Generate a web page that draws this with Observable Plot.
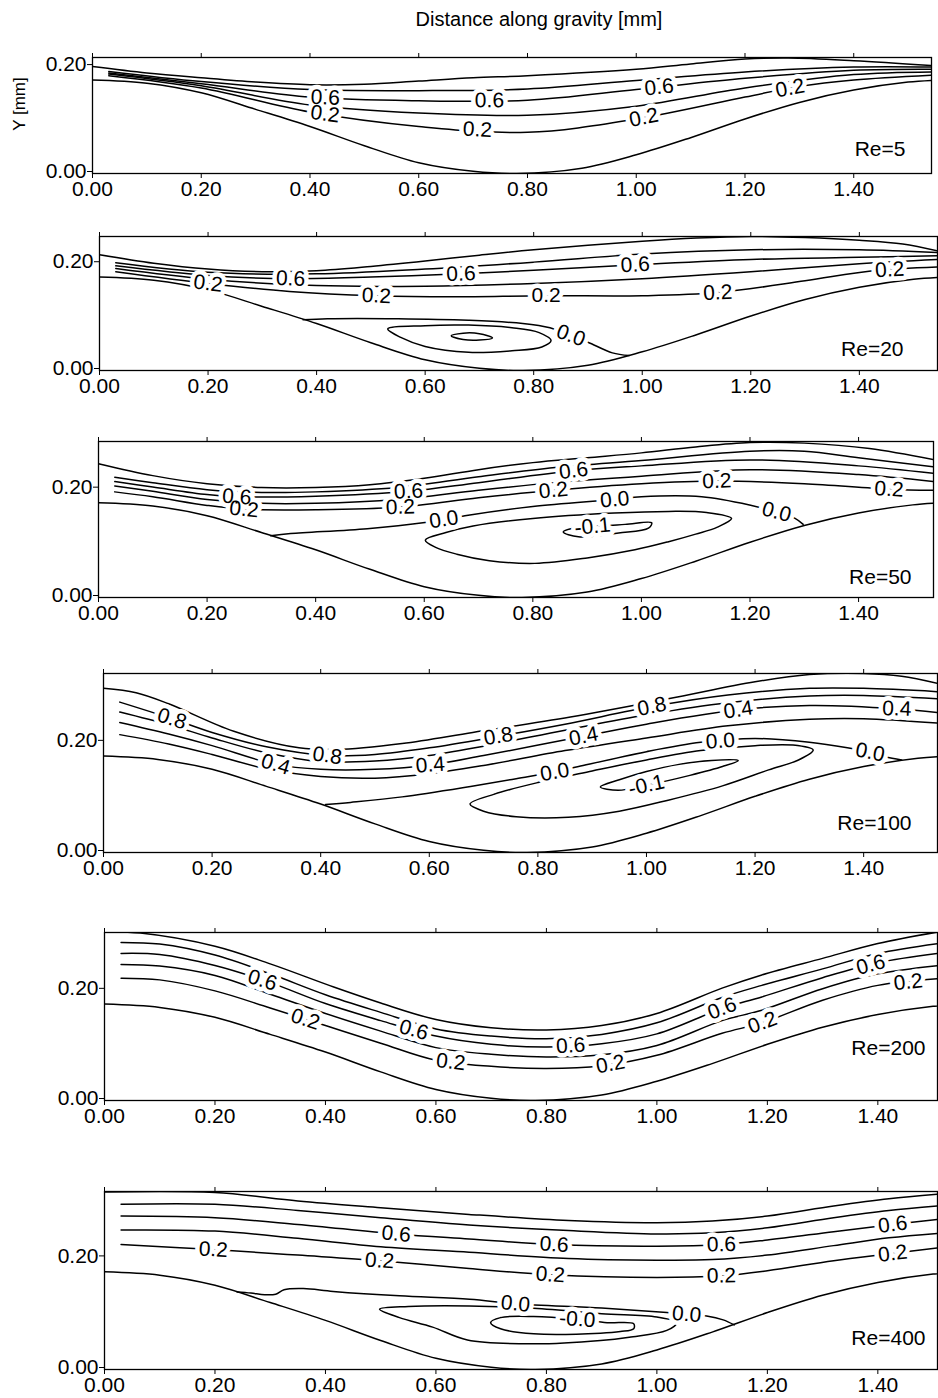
<!DOCTYPE html>
<html>
<head>
<meta charset="utf-8">
<script src="https://cdn.jsdelivr.net/npm/d3@7"></script>
<script src="https://cdn.jsdelivr.net/npm/@observablehq/plot@0.6"></script>
<style>
  body { margin: 0; background: #fff; }
  #fig { position: relative; width: 938px; height: 1398px; font-family: "Liberation Sans", Arial, Helvetica, sans-serif; color: #000; overflow: hidden; }
  .title { position: absolute; top: 7px; left: 539px; transform: translateX(-50%); font-size: 20px; line-height: 24px; white-space: nowrap; }
  .ylab { position: absolute; left: 20px; top: 104px; transform: translate(-50%, -50%) rotate(-90deg); font-size: 17px; white-space: nowrap; }
</style>
</head>
<body>
<div id="fig">
  <div class="title">Distance along gravity [mm]</div>
  <div class="ylab">Y [mm]</div>
</div>
<script>
// ---- axis ticks -------------------------------------------------------------
const xTicks = [0, 0.2, 0.4, 0.6, 0.8, 1.0, 1.2, 1.4];
const yTicks = [0, 0.2];

// ---- corrugated wall (same in every panel) ------------------------------------
const wallX = [0, 0.1, 0.2, 0.3, 0.4, 0.5, 0.6, 0.7, 0.78, 0.9, 1.0, 1.1, 1.2, 1.3, 1.4, 1.5, 1.56];
const wallY = [0.175, 0.169, 0.151, 0.12, 0.088, 0.052, 0.02, 0.004, 0, 0.01, 0.035, 0.067, 0.102, 0.133, 0.156, 0.171, 0.175];

// ---- Re = 5 ---------------------------------------------------------------
const re5Surface = [[0,0.200],[0.1,0.188],[0.2,0.179],[0.3,0.171],[0.4,0.166],[0.5,0.167],[0.6,0.173],[0.7,0.179],[0.8,0.183],[1.0,0.195],[1.1,0.205],[1.2,0.214],[1.28,0.216],[1.4,0.211],[1.543,0.202]];
const re5Streamlines = [
  [[0.03,0.183],[0.2,0.160],[0.4,0.115],[0.6,0.088],[0.8,0.077],[1.0,0.102],[1.2,0.143],[1.3,0.163],[1.4,0.175],[1.543,0.184]],
  [[0.03,0.186],[0.2,0.164],[0.4,0.128],[0.6,0.113],[0.8,0.109],[1.0,0.126],[1.2,0.160],[1.4,0.185],[1.543,0.190]],
  [[0.03,0.188],[0.2,0.168],[0.4,0.143],[0.6,0.136],[0.8,0.137],[1.0,0.157],[1.2,0.178],[1.4,0.193],[1.543,0.195]],
  [[0.03,0.191],[0.2,0.172],[0.4,0.157],[0.6,0.155],[0.8,0.158],[1.0,0.174],[1.2,0.190],[1.4,0.199],[1.543,0.199]]
];
const re5Labels = [["0.6",0.428,0.142],["0.2",0.428,0.114],["0.6",0.73,0.136],["0.2",0.708,0.079],["0.6",1.042,0.161],["0.2",1.014,0.104],["0.2",1.283,0.159]];

// ---- Re = 20 --------------------------------------------------------------
const re20Surface = [[0,0.217],[0.1,0.201],[0.2,0.190],[0.3,0.185],[0.4,0.187],[0.5,0.195],[0.6,0.205],[0.7,0.216],[0.8,0.226],[1.0,0.242],[1.1,0.248],[1.2,0.251],[1.3,0.249],[1.4,0.244],[1.48,0.237],[1.544,0.224]];
const re20Streamlines = [
  [[0.03,0.185],[0.2,0.163],[0.35,0.148],[0.51,0.140],[0.65,0.138],[0.82,0.140],[1.0,0.140],[1.139,0.146],[1.3,0.168],[1.425,0.187],[1.544,0.194]],
  [[0.03,0.191],[0.2,0.171],[0.4,0.159],[0.6,0.158],[0.8,0.163],[1.0,0.172],[1.2,0.185],[1.4,0.200],[1.544,0.208]],
  [[0.03,0.196],[0.2,0.178],[0.352,0.172],[0.5,0.175],[0.666,0.181],[0.8,0.188],[0.987,0.198],[1.2,0.208],[1.4,0.212],[1.544,0.215]],
  [[0.03,0.202],[0.2,0.184],[0.4,0.181],[0.6,0.190],[0.8,0.203],[1.0,0.218],[1.2,0.226],[1.4,0.226],[1.544,0.221]]
];
const re20Separatrix = [[0.375,0.095],[0.42,0.097],[0.55,0.097],[0.68,0.094],[0.78,0.088],[0.83,0.080],[0.87,0.065],[0.9,0.053],[0.945,0.033],[0.976,0.028]];
const re20Eddies = [
  [[0.531,0.078],[0.6,0.084],[0.68,0.085],[0.76,0.080],[0.81,0.071],[0.832,0.056],[0.815,0.044],[0.76,0.037],[0.68,0.034],[0.6,0.045],[0.555,0.062]],
  [[0.648,0.065],[0.67,0.070],[0.7,0.069],[0.724,0.061],[0.7,0.057],[0.67,0.058]]
];
const re20Labels = [["0.2",0.2,0.163],["0.6",0.352,0.172],["0.2",0.51,0.140],["0.6",0.666,0.181],["0.2",0.823,0.140],["0.6",0.987,0.198],["0.2",1.139,0.146],["0.2",1.456,0.188],["0.0",0.868,0.064]];

// ---- Re = 50 --------------------------------------------------------------
const re50Surface = [[0,0.247],[0.1,0.225],[0.2,0.210],[0.3,0.203],[0.4,0.203],[0.5,0.208],[0.6,0.220],[0.7,0.236],[0.8,0.249],[0.9,0.258],[1.0,0.267],[1.1,0.278],[1.2,0.286],[1.3,0.285],[1.42,0.275],[1.54,0.254]];
const re50Streamlines = [
  [[0.03,0.195],[0.1,0.186],[0.2,0.170],[0.268,0.163],[0.4,0.162],[0.556,0.167],[0.7,0.184],[0.838,0.198],[1.0,0.210],[1.139,0.215],[1.3,0.210],[1.456,0.200],[1.54,0.198]],
  [[0.03,0.206],[0.1,0.196],[0.2,0.181],[0.3,0.174],[0.4,0.174],[0.55,0.181],[0.7,0.198],[0.85,0.213],[1.0,0.224],[1.2,0.236],[1.4,0.227],[1.54,0.214]],
  [[0.03,0.214],[0.1,0.204],[0.2,0.190],[0.255,0.186],[0.4,0.187],[0.571,0.196],[0.7,0.212],[0.875,0.234],[1.0,0.243],[1.2,0.254],[1.4,0.243],[1.54,0.229]],
  [[0.03,0.222],[0.1,0.212],[0.2,0.199],[0.3,0.194],[0.4,0.195],[0.55,0.203],[0.7,0.223],[0.85,0.241],[1.0,0.253],[1.2,0.270],[1.3,0.270],[1.4,0.258],[1.54,0.241]]
];
const re50Separatrix = [[0.317,0.114],[0.354,0.118],[0.495,0.127],[0.605,0.139],[0.636,0.144],[0.681,0.152],[0.8,0.168],[0.951,0.181],[1.0,0.186],[1.111,0.186],[1.203,0.170],[1.249,0.158],[1.283,0.146],[1.298,0.135]];
const re50Eddies = [
  [[0.602,0.106],[0.64,0.120],[0.69,0.132],[0.8,0.146],[0.95,0.156],[1.05,0.159],[1.12,0.157],[1.166,0.146],[1.14,0.130],[1.1,0.117],[1.05,0.103],[0.988,0.088],[0.9,0.073],[0.804,0.063],[0.72,0.068],[0.66,0.080],[0.62,0.093]],
  [[0.856,0.121],[0.87,0.127],[0.91,0.131],[0.97,0.135],[1.019,0.138],[1.013,0.128],[0.958,0.119],[0.884,0.112]]
];
const re50Labels = [["0.6",0.255,0.188],["0.2",0.268,0.163],["0.6",0.571,0.196],["0.2",0.556,0.167],["0.0",0.636,0.144],["0.6",0.875,0.234],["0.2",0.838,0.198],["0.0",0.951,0.181],["-0.1",0.91,0.131],["0.2",1.139,0.215],["0.0",1.249,0.158],["0.2",1.456,0.200]];

// ---- Re = 100 -------------------------------------------------------------
const re100Surface = [[0,0.298],[0.06,0.290],[0.12,0.270],[0.24,0.220],[0.36,0.190],[0.43,0.187],[0.55,0.198],[0.68,0.218],[0.86,0.246],[1.04,0.279],[1.2,0.310],[1.3,0.323],[1.4,0.325],[1.47,0.320],[1.536,0.307]];
const re100Streamlines = [
  [[0.03,0.214],[0.12,0.197],[0.2,0.178],[0.3,0.152],[0.4,0.138],[0.5,0.135],[0.6,0.143],[0.7,0.158],[0.85,0.185],[1.0,0.208],[1.15,0.230],[1.3,0.242],[1.4,0.243],[1.536,0.235]],
  [[0.03,0.236],[0.12,0.215],[0.2,0.194],[0.317,0.160],[0.4,0.151],[0.5,0.151],[0.602,0.159],[0.7,0.176],[0.884,0.211],[1.0,0.233],[1.169,0.259],[1.3,0.267],[1.461,0.261],[1.536,0.254]],
  [[0.03,0.255],[0.12,0.232],[0.2,0.208],[0.3,0.181],[0.4,0.165],[0.5,0.166],[0.6,0.176],[0.7,0.193],[0.85,0.222],[1.0,0.250],[1.15,0.272],[1.3,0.284],[1.4,0.285],[1.536,0.279]],
  [[0.03,0.273],[0.126,0.243],[0.2,0.218],[0.3,0.192],[0.412,0.176],[0.5,0.178],[0.6,0.190],[0.727,0.211],[0.85,0.233],[1.01,0.265],[1.15,0.286],[1.3,0.298],[1.4,0.298],[1.536,0.292]]
];
const re100Separatrix = [[0.409,0.087],[0.455,0.091],[0.55,0.101],[0.676,0.120],[0.76,0.134],[0.831,0.146],[0.875,0.156],[1.0,0.183],[1.1,0.200],[1.2,0.207],[1.3,0.200],[1.37,0.190],[1.412,0.182],[1.44,0.174],[1.47,0.168]];
const re100Eddies = [
  [[0.675,0.088],[0.72,0.106],[0.8,0.127],[0.9,0.148],[1.0,0.168],[1.1,0.185],[1.2,0.194],[1.27,0.195],[1.307,0.186],[1.28,0.168],[1.225,0.150],[1.14,0.121],[1.04,0.095],[0.95,0.075],[0.856,0.064],[0.76,0.065],[0.7,0.075]],
  [[0.915,0.119],[0.95,0.132],[1.0,0.147],[1.06,0.160],[1.12,0.167],[1.169,0.167],[1.14,0.156],[1.08,0.140],[1.0,0.122],[0.948,0.113]]
];
const re100Labels = [["0.8",0.126,0.243],["0.4",0.317,0.160],["0.8",0.412,0.176],["0.4",0.602,0.159],["0.8",0.727,0.211],["0.4",0.884,0.211],["0.8",1.01,0.265],["0.4",1.169,0.259],["0.4",1.461,0.261],["0.0",0.831,0.146],["0.0",1.136,0.203],["0.0",1.412,0.182],["-0.1",1.0,0.122]];

// ---- Re = 200 -------------------------------------------------------------
const re200Surface = [[0,0.306],[0.065,0.304],[0.2,0.280],[0.3,0.248],[0.415,0.206],[0.5,0.177],[0.6,0.147],[0.7,0.132],[0.8,0.128],[0.9,0.136],[1.0,0.158],[1.118,0.204],[1.19,0.228],[1.3,0.258],[1.4,0.285],[1.509,0.306]];
const re200Streamlines = [
  [[0.03,0.222],[0.1,0.219],[0.2,0.199],[0.3,0.168],[0.4,0.136],[0.5,0.104],[0.6,0.073],[0.7,0.062],[0.8,0.058],[0.9,0.063],[1.0,0.082],[1.118,0.122],[1.19,0.141],[1.3,0.182],[1.4,0.209],[1.509,0.221]],
  [[0.03,0.247],[0.1,0.244],[0.2,0.227],[0.3,0.193],[0.4,0.158],[0.5,0.126],[0.6,0.096],[0.7,0.084],[0.8,0.079],[0.9,0.083],[1.0,0.100],[1.118,0.145],[1.19,0.164],[1.3,0.203],[1.4,0.230],[1.509,0.245]],
  [[0.03,0.267],[0.1,0.265],[0.2,0.245],[0.3,0.214],[0.4,0.176],[0.5,0.145],[0.6,0.117],[0.7,0.102],[0.8,0.097],[0.9,0.103],[1.0,0.121],[1.118,0.167],[1.19,0.188],[1.3,0.223],[1.4,0.250],[1.509,0.267]],
  [[0.03,0.287],[0.1,0.284],[0.2,0.264],[0.3,0.230],[0.4,0.192],[0.5,0.160],[0.6,0.130],[0.7,0.117],[0.8,0.112],[0.9,0.120],[1.0,0.141],[1.118,0.187],[1.19,0.209],[1.3,0.239],[1.4,0.267],[1.509,0.285]]
];
const re200Labels = [["0.6",0.286,0.219],["0.2",0.364,0.149],["0.6",0.56,0.128],["0.2",0.627,0.070],["0.6",0.844,0.099],["0.2",0.916,0.066],["0.6",1.118,0.167],["0.2",1.191,0.141],["0.6",1.387,0.247],["0.2",1.455,0.215]];

// ---- Re = 400 -------------------------------------------------------------
const re400Surface = [[0,0.318],[0.2,0.317],[0.35,0.302],[0.5,0.290],[0.66,0.278],[0.84,0.267],[1.0,0.263],[1.1,0.266],[1.2,0.275],[1.32,0.293],[1.42,0.306],[1.508,0.314]];
const re400Streamlines = [
  [[0.03,0.224],[0.197,0.215],[0.35,0.205],[0.498,0.195],[0.66,0.181],[0.807,0.170],[1.0,0.165],[1.117,0.168],[1.2,0.177],[1.32,0.195],[1.427,0.208],[1.508,0.218]],
  [[0.03,0.250],[0.2,0.248],[0.35,0.235],[0.5,0.220],[0.66,0.210],[0.84,0.199],[1.0,0.196],[1.1,0.197],[1.2,0.205],[1.32,0.222],[1.42,0.236],[1.508,0.244]],
  [[0.03,0.275],[0.2,0.272],[0.35,0.260],[0.528,0.243],[0.66,0.234],[0.814,0.224],[1.0,0.221],[1.117,0.224],[1.2,0.232],[1.32,0.247],[1.427,0.260],[1.508,0.269]],
  [[0.03,0.296],[0.2,0.296],[0.35,0.285],[0.5,0.272],[0.66,0.259],[0.84,0.249],[1.0,0.243],[1.1,0.245],[1.2,0.254],[1.32,0.272],[1.42,0.285],[1.508,0.293]]
];
const re400Separatrix = [[0.24,0.139],[0.265,0.137],[0.29,0.134],[0.31,0.135],[0.325,0.143],[0.36,0.145],[0.414,0.140],[0.534,0.132],[0.661,0.126],[0.744,0.118],[0.9,0.110],[1.018,0.102],[1.09,0.096],[1.12,0.089],[1.14,0.080]];
const re400Eddies = [
  [[0.498,0.108],[0.55,0.113],[0.66,0.114],[0.77,0.110],[0.9,0.100],[1.0,0.094],[1.036,0.084],[1.018,0.070],[0.95,0.058],[0.898,0.052],[0.777,0.046],[0.657,0.053],[0.594,0.076],[0.534,0.093]],
  [[0.699,0.084],[0.717,0.093],[0.777,0.095],[0.856,0.090],[0.91,0.084],[0.958,0.082],[0.958,0.073],[0.934,0.068],[0.898,0.065],[0.777,0.064],[0.717,0.073]]
];
const re400Labels = [["0.2",0.197,0.215],["0.6",0.528,0.243],["0.2",0.498,0.195],["0.6",0.814,0.224],["0.2",0.807,0.170],["0.6",1.117,0.224],["0.2",1.117,0.168],["0.6",1.427,0.260],["0.2",1.427,0.208],["0.0",0.744,0.118],["-0.0",0.856,0.090],["0.0",1.054,0.099]];

// ---- panel layout (frame edges in page pixels) -------------------------------
const panels = [
  {re: "Re=5",   frameTop: 57,   frameBottom: 173,  left: 92,  right: 931, xMax: 1.543, yMax: 0.217, pad: 32, reDx: 26, reDy: 24,
   surface: re5Surface, streamlines: re5Streamlines, extra: [], eddies: [], labels: re5Labels},
  {re: "Re=20",  frameTop: 236,  frameBottom: 370,  left: 99,  right: 937, xMax: 1.544, yMax: 0.251, pad: 32, reDx: 34, reDy: 21,
   surface: re20Surface, streamlines: re20Streamlines, extra: [re20Separatrix], eddies: re20Eddies, labels: re20Labels},
  {re: "Re=50",  frameTop: 441,  frameBottom: 597,  left: 98,  right: 933, xMax: 1.538, yMax: 0.288, pad: 32, reDx: 22, reDy: 20,
   surface: re50Surface, streamlines: re50Streamlines, extra: [re50Separatrix], eddies: re50Eddies, labels: re50Labels},
  {re: "Re=100", frameTop: 673,  frameBottom: 852,  left: 103, right: 937, xMax: 1.536, yMax: 0.325, pad: 32, reDx: 26, reDy: 29,
   surface: re100Surface, streamlines: re100Streamlines, extra: [re100Separatrix], eddies: re100Eddies, labels: re100Labels},
  {re: "Re=200", frameTop: 932,  frameBottom: 1100, left: 104, right: 937, xMax: 1.508, yMax: 0.305, pad: 32, reDx: 12, reDy: 52,
   surface: re200Surface, streamlines: re200Streamlines, extra: [], eddies: [], labels: re200Labels},
  {re: "Re=400", frameTop: 1191, frameBottom: 1369, left: 104, right: 937, xMax: 1.508, yMax: 0.319, pad: 29, reDx: 12, reDy: 31,
   surface: re400Surface, streamlines: re400Streamlines, extra: [re400Separatrix], eddies: re400Eddies, labels: re400Labels}
];

const FONT = "'Liberation Sans', Arial, Helvetica, sans-serif";
const fmt = d3.format(".2f");
const xy = {x: d => d[0], y: d => d[1]};
const wall = wallX.map((x, i) => [x, wallY[i]]);

// Put each contour label on the nearest streamline and turn it along the line.
function placeLabels(list, open, closed, kx, ky) {
  const polys = [...open, ...closed.map(l => [...l, l[0]])];
  return list.map(([text, lx, ly]) => {
    const qx = lx * kx, qy = -ly * ky;
    let best = {d: Infinity};
    for (const pts of polys) {
      for (let i = 1; i < pts.length; i++) {
        const ax = pts[i - 1][0] * kx, ay = -pts[i - 1][1] * ky;
        const bx = pts[i][0] * kx, by = -pts[i][1] * ky;
        const vx = bx - ax, vy = by - ay;
        const t = Math.max(0, Math.min(1, ((qx - ax) * vx + (qy - ay) * vy) / (vx * vx + vy * vy)));
        const px = ax + t * vx, py = ay + t * vy;
        const d = Math.hypot(qx - px, qy - py);
        if (d < best.d) best = {d, px, py, ang: Math.atan2(vy, vx) * 180 / Math.PI};
      }
    }
    let a = best.ang;
    if (a > 90) a -= 180;
    if (a < -90) a += 180;
    return {text, x: best.px / kx, y: -best.py / ky, rotate: a};
  });
}

const fig = document.getElementById("fig");
for (const p of panels) {
  const marginTop = 30, marginBottom = p.pad;
  const height = p.frameBottom - p.frameTop + marginTop + marginBottom;
  const kx = (p.right - p.left) / p.xMax;
  const ky = (p.frameBottom - p.frameTop) / p.yMax;
  const open = [p.surface, ...p.streamlines, ...p.extra];
  const labels = placeLabels(p.labels, open, p.eddies, kx, ky);
  const lineStyle = {stroke: "black", strokeWidth: 1.5, clip: true};

  const chart = Plot.plot({
    width: 938,
    height,
    marginLeft: p.left,
    marginRight: 938 - p.right,
    marginTop,
    marginBottom,
    x: {domain: [0, p.xMax]},
    y: {domain: [0, p.yMax]},
    style: {fontFamily: FONT, fontSize: "21px", background: "transparent", overflow: "visible"},
    marks: [
      Plot.line(wall, {...xy, curve: "catmull-rom", ...lineStyle}),
      ...open.map(l => Plot.line(l, {...xy, curve: "catmull-rom", ...lineStyle})),
      ...p.eddies.map(l => Plot.line(l, {...xy, curve: "catmull-rom-closed", ...lineStyle})),
      // white knock-out behind each contour label, then the label itself
      Plot.text(labels, {x: "x", y: "y", text: "text", rotate: "rotate", fontSize: 21, fill: "white", stroke: "white", strokeWidth: 9, strokeLinejoin: "round"}),
      Plot.text(labels, {x: "x", y: "y", text: "text", rotate: "rotate", fontSize: 21, fill: "black"}),
      Plot.frame({stroke: "black", strokeWidth: 1.3}),
      Plot.axisX(xTicks, {anchor: "bottom", tickFormat: fmt, tickSize: 5, tickPadding: 3, fontSize: 21, label: null}),
      Plot.axisX(xTicks, {anchor: "top", tickFormat: () => "", tickSize: 5, label: null}),
      Plot.axisY(yTicks, {anchor: "left", tickFormat: fmt, tickSize: 5, tickPadding: 1, dy: -2, fontSize: 21, label: null}),
      Plot.text([p.re], {text: d => d, frameAnchor: "bottom-right", textAnchor: "end", lineAnchor: "middle", dx: -p.reDx, dy: -p.reDy, fontSize: 21, fill: "black"})
    ]
  });
  chart.style.position = "absolute";
  chart.style.left = "0px";
  chart.style.top = (p.frameTop - marginTop) + "px";
  fig.append(chart);
}
</script>
</body>
</html>
